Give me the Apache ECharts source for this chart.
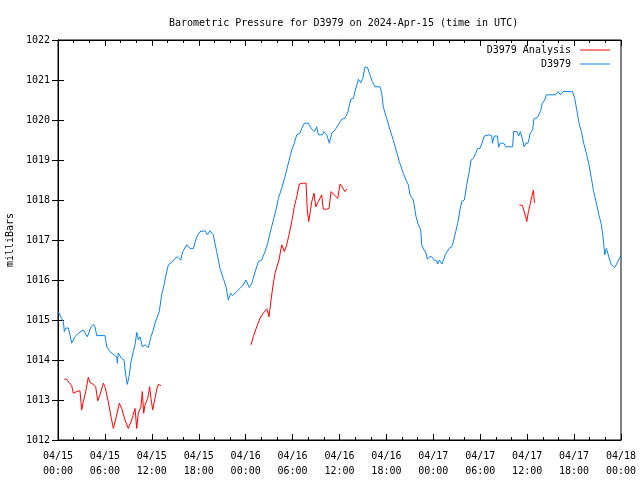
<!DOCTYPE html>
<html>
<head>
<meta charset="utf-8">
<script src="https://cdn.jsdelivr.net/npm/echarts@6/dist/echarts.min.js"></script>
<style>html,body{margin:0;padding:0;background:#fff}#c{width:640px;height:480px}</style>
</head>
<body>
<div id="c"></div>
<script>
// Hours since 2024-04-15 00:00 UTC
const blueHours = [0.0,0.47,0.68,0.81,0.99,1.32,1.53,1.75,1.96,2.17,2.60,3.24,3.45,3.75,4.00,4.22,4.51,4.73,4.95,6.01,6.23,6.65,7.08,7.51,7.59,7.71,8.14,8.44,8.66,8.86,9.08,9.34,9.63,9.85,10.07,10.27,10.49,10.78,11.13,11.55,11.89,12.19,12.40,12.95,13.26,13.56,13.81,14.11,14.54,14.97,15.26,15.70,15.95,16.46,16.88,17.31,17.74,18.16,18.80,19.10,19.44,19.86,20.29,20.72,21.14,21.49,21.78,22.09,22.34,22.85,23.28,23.70,24.04,24.47,24.75,24.96,25.28,25.62,26.05,26.47,26.82,27.11,27.54,27.97,28.18,28.61,29.03,29.46,29.89,30.22,30.53,30.95,31.17,31.50,32.02,32.45,32.78,33.09,33.30,33.81,34.02,34.37,34.70,35.00,35.43,35.85,36.28,36.70,37.09,37.44,37.77,37.98,38.41,38.72,38.97,39.26,39.56,39.90,40.20,40.54,41.18,41.40,41.60,42.04,42.46,42.88,43.23,43.65,44.16,44.51,44.80,45.02,45.44,45.79,46.08,46.39,46.51,46.81,47.07,47.23,47.49,47.80,48.09,48.44,48.56,48.77,49.10,49.31,49.52,50.01,50.35,50.56,50.86,51.12,51.41,51.63,51.96,52.27,52.56,52.82,53.11,53.42,53.67,53.97,54.19,54.52,55.12,55.47,55.55,55.81,56.21,56.34,56.56,56.99,57.29,58.14,58.27,58.70,58.91,59.13,59.42,59.60,59.85,60.11,60.40,60.70,60.87,61.30,61.69,61.95,62.24,62.46,63.65,63.95,64.26,64.59,65.79,66.08,66.38,66.63,66.94,67.23,67.57,67.91,68.21,68.51,68.85,69.18,69.49,69.70,69.92,70.13,70.34,70.56,70.77,71.20,71.49,71.84,72.0];
const bluePressure = [1015.22,1015.04,1014.96,1014.71,1014.80,1014.80,1014.63,1014.42,1014.42,1014.58,1014.67,1014.75,1014.79,1014.58,1014.58,1014.83,1014.89,1014.83,1014.61,1014.61,1014.33,1014.21,1014.14,1014.08,1013.92,1014.17,1014.04,1014.00,1013.63,1013.39,1013.58,1013.96,1014.21,1014.38,1014.69,1014.50,1014.58,1014.33,1014.38,1014.31,1014.58,1014.75,1014.92,1015.21,1015.63,1015.88,1016.13,1016.38,1016.44,1016.54,1016.58,1016.50,1016.71,1016.88,1016.79,1016.79,1017.08,1017.21,1017.23,1017.13,1017.23,1017.13,1016.71,1016.29,1016.04,1015.83,1015.50,1015.67,1015.61,1015.71,1015.79,1015.88,1016.00,1015.81,1015.90,1015.90,1016.25,1016.46,1016.50,1016.71,1016.92,1017.17,1017.50,1017.83,1018.04,1018.29,1018.58,1018.92,1019.25,1019.42,1019.63,1019.67,1019.79,1019.92,1019.92,1019.77,1019.71,1019.83,1019.63,1019.63,1019.71,1019.63,1019.42,1019.67,1019.75,1019.88,1020.02,1020.04,1020.21,1020.52,1020.54,1020.71,1021.02,1020.93,1021.04,1021.32,1021.32,1021.13,1020.96,1020.83,1020.83,1020.67,1020.33,1020.04,1019.75,1019.50,1019.25,1018.96,1018.67,1018.50,1018.38,1018.13,1018.00,1017.58,1017.38,1017.25,1016.88,1016.75,1016.67,1016.52,1016.58,1016.58,1016.50,1016.48,1016.40,1016.50,1016.40,1016.50,1016.63,1016.79,1016.83,1016.96,1017.21,1017.42,1017.75,1017.96,1018.00,1018.38,1018.67,1019.00,1019.04,1019.17,1019.29,1019.29,1019.40,1019.60,1019.63,1019.60,1019.42,1019.60,1019.60,1019.32,1019.42,1019.42,1019.33,1019.33,1019.71,1019.71,1019.60,1019.71,1019.50,1019.33,1019.42,1019.42,1019.67,1019.75,1020.03,1020.06,1020.21,1020.42,1020.50,1020.63,1020.63,1020.71,1020.63,1020.71,1020.71,1020.54,1020.21,1019.92,1019.71,1019.42,1019.17,1018.88,1018.54,1018.21,1017.92,1017.63,1017.38,1017.08,1016.63,1016.79,1016.79,1016.50,1016.38,1016.31,1016.42,1016.56,1016.62];

// null entries separate the analysis segments
const redHours = [0.80,1.11,1.41,1.75,1.96,2.39,2.81,3.03,3.24,3.54,3.88,4.09,4.51,4.82,5.08,5.37,5.80,6.01,6.43,6.78,7.08,7.51,7.84,8.14,8.57,8.99,9.42,9.85,10.07,10.27,10.61,10.78,10.96,11.13,11.47,11.72,11.89,12.11,12.40,12.62,12.83,13.17,
  18.0,
  24.68,24.98,25.41,25.83,26.26,26.69,26.99,27.24,27.54,27.75,27.97,28.26,28.61,28.82,28.95,29.25,29.54,29.89,30.22,30.53,30.86,31.37,31.72,31.88,32.06,32.23,32.45,32.74,32.96,33.30,33.72,33.93,34.37,34.66,34.92,35.21,35.78,36.07,36.36,36.70,36.92,
  48.0,
  59.00,59.39,59.64,59.82,59.95,60.16,60.37,60.59,60.80,60.93];
const redPressure = [1013.52,1013.52,1013.44,1013.36,1013.17,1013.21,1013.23,1012.75,1012.96,1013.21,1013.57,1013.44,1013.39,1013.33,1012.98,1013.13,1013.42,1013.33,1012.96,1012.58,1012.29,1012.63,1012.92,1012.79,1012.50,1012.29,1012.50,1012.79,1012.29,1012.67,1012.83,1013.21,1012.67,1012.88,1013.04,1013.33,1013.04,1012.75,1013.04,1013.25,1013.39,1013.36,
  null,
  1014.38,1014.58,1014.83,1015.04,1015.17,1015.28,1015.08,1015.50,1015.92,1016.17,1016.17,1016.50,1016.88,1016.92,1016.71,1016.88,1017.13,1017.46,1017.83,1018.08,1018.40,1018.42,1018.42,1017.75,1017.46,1017.67,1017.96,1018.17,1017.83,1017.96,1018.13,1017.77,1017.77,1017.79,1018.21,1018.15,1018.04,1018.40,1018.32,1018.21,1018.27,
  null,
  1017.88,1017.86,1017.83,1017.58,1017.46,1017.71,1017.88,1018.08,1018.25,1017.93];

const xMin = 0, xMax = 72, xStep = 6;
const yMin = 1012, yMax = 1022, yStep = 1;
const titleText = 'Barometric Pressure for D3979 on 2024-Apr-15 (time in UTC)';
const yName = 'milliBars';
const seriesNames = ['D3979 Analysis', 'D3979'];

const FONT = 'DejaVu Sans Mono';
function pad(n){ return (n < 10 ? '0' : '') + n; }
function fmtX(v){
  const day = 15 + Math.floor(v / 24);
  const hr = Math.round(v % 24);
  return '04/' + pad(day) + '\n' + pad(hr) + ':00';
}
const blueData = blueHours.map((h, i) => [h, bluePressure[i]]);
const redData = redHours.map((h, i) => [h, redPressure[i] === null ? '-' : redPressure[i]]);

const axisLine = {show: true, lineStyle: {color: '#000', width: 1}};
const chart = echarts.init(document.getElementById('c'), null, {renderer: 'canvas'});
chart.setOption({
  animation: false,
  backgroundColor: '#fff',
  title: {
    text: titleText, left: 164, top: 13,
    textStyle: {fontFamily: FONT, fontSize: 10, fontWeight: 'normal', color: '#000'}
  },
  legend: {
    orient: 'vertical', right: 30, top: 44, align: 'right', padding: 0,
    itemWidth: 30, itemHeight: 1, itemGap: 2,
    icon: 'rect',
    textStyle: {fontFamily: FONT, fontSize: 10, color: '#000', padding: [0, 4, 0, 0], lineHeight: 12},
    data: seriesNames
  },
  grid: {left: 58, right: 19, top: 40, bottom: 40, containLabel: false, outerBoundsMode: 'none',
    show: true, borderColor: '#000', borderWidth: 1, backgroundColor: 'transparent'},
  xAxis: [{
    type: 'value', min: xMin, max: xMax, interval: xStep,
    axisLine: axisLine,
    axisTick: {inside: true, length: 6, lineStyle: {color: '#000'}},
    minorTick: {show: true, splitNumber: 3, length: 3, lineStyle: {color: '#000'}},
    splitLine: {show: false},
    axisLabel: {formatter: fmtX, fontFamily: FONT, fontSize: 10, color: '#000', margin: 9, lineHeight: 15, hideOverlap: false}
  }, {
    type: 'value', min: xMin, max: xMax, interval: xStep, position: 'top',
    axisLine: axisLine,
    axisTick: {inside: true, length: 6, lineStyle: {color: '#000'}},
    minorTick: {show: true, splitNumber: 3, length: 3, lineStyle: {color: '#000'}},
    splitLine: {show: false}, axisLabel: {show: false}
  }],
  yAxis: [{
    type: 'value', min: yMin, max: yMax, interval: yStep,
    name: yName, nameLocation: 'middle', nameGap: 43, nameRotate: 90,
    nameTextStyle: {fontFamily: FONT, fontSize: 10, color: '#000'},
    axisLine: axisLine,
    axisTick: {inside: true, length: 6, lineStyle: {color: '#000'}},
    splitLine: {show: false},
    axisLabel: {formatter: (v) => String(v), fontFamily: FONT, fontSize: 10, color: '#000', margin: 8}
  }, {
    type: 'value', min: yMin, max: yMax, interval: yStep, position: 'right',
    axisLine: axisLine,
    axisTick: {inside: true, length: 6, lineStyle: {color: '#000'}},
    splitLine: {show: false}, axisLabel: {show: false}
  }],
  series: [{
    name: seriesNames[0], type: 'line', data: redData,
    showSymbol: false, symbol: 'none', connectNulls: false,
    lineStyle: {color: '#ff0000', width: 1}, itemStyle: {color: '#ff0000'}, z: 3
  }, {
    name: seriesNames[1], type: 'line', data: blueData,
    showSymbol: false, symbol: 'none',
    lineStyle: {color: '#0a84f0', width: 1}, itemStyle: {color: '#0a84f0'}, z: 2
  }]
});
</script>
</body>
</html>
